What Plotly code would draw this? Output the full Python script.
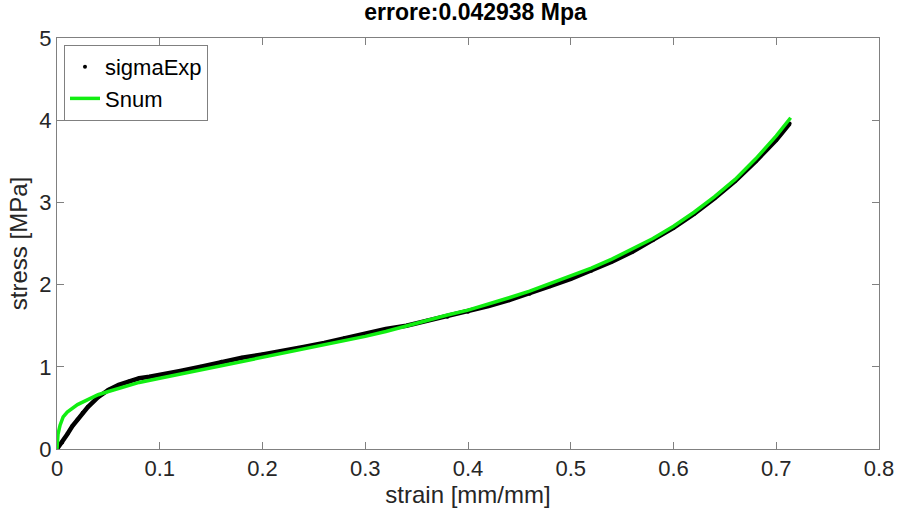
import plotly.graph_objects as go

# Experimental data (strain [mm/mm], stress [MPa])
exp_strain = [0.000, 0.005, 0.010, 0.015, 0.020, 0.025, 0.030, 0.040, 0.050, 0.060,
              0.070, 0.080, 0.090, 0.100, 0.120, 0.140, 0.160, 0.180, 0.200, 0.220,
              0.240, 0.260, 0.280, 0.300, 0.320, 0.340, 0.360, 0.380, 0.400, 0.420,
              0.440, 0.460, 0.480, 0.500, 0.520, 0.540, 0.560, 0.580, 0.600, 0.620,
              0.640, 0.660, 0.680, 0.700, 0.713]
exp_stress = [0.00, 0.08, 0.18, 0.28, 0.36, 0.44, 0.51, 0.63, 0.72, 0.78,
              0.82, 0.86, 0.88, 0.90, 0.95, 1.00, 1.06, 1.11, 1.15, 1.19,
              1.24, 1.29, 1.35, 1.40, 1.46, 1.50, 1.56, 1.61, 1.67, 1.74,
              1.81, 1.89, 1.98, 2.07, 2.17, 2.28, 2.40, 2.54, 2.69, 2.86,
              3.05, 3.26, 3.50, 3.76, 3.96]

# Numerical model
num_strain = [0.000, 0.001, 0.003, 0.006, 0.010, 0.015, 0.020, 0.030, 0.040, 0.050,
              0.060, 0.070, 0.080, 0.100, 0.120, 0.140, 0.160, 0.180, 0.200, 0.220,
              0.240, 0.260, 0.280, 0.300, 0.320, 0.340, 0.360, 0.380, 0.400, 0.420,
              0.440, 0.460, 0.480, 0.500, 0.520, 0.540, 0.560, 0.580, 0.600, 0.620,
              0.640, 0.660, 0.680, 0.700, 0.714]
num_stress = [0.00, 0.18, 0.29, 0.39, 0.45, 0.50, 0.54, 0.60, 0.66, 0.70,
              0.74, 0.78, 0.81, 0.86, 0.91, 0.96, 1.02, 1.07, 1.11, 1.16,
              1.21, 1.26, 1.31, 1.37, 1.43, 1.50, 1.56, 1.63, 1.69, 1.76,
              1.84, 1.92, 2.01, 2.10, 2.20, 2.31, 2.43, 2.56, 2.71, 2.88,
              3.07, 3.28, 3.53, 3.81, 4.03]

x_ticks = [0, 0.1, 0.2, 0.3, 0.4, 0.5, 0.6, 0.7, 0.8]
y_ticks = [0, 1, 2, 3, 4, 5]

FONT = "Liberation Sans, Arial, sans-serif"
AX = "#808080"
TXT = "#262626"

fig = go.Figure()
fig.add_trace(go.Scatter(x=exp_strain, y=exp_stress, mode="lines",
                         line=dict(color="black", width=4.5), showlegend=False,
                         hoverinfo="skip"))
fig.add_trace(go.Scatter(x=exp_strain, y=exp_stress, mode="markers",
                         marker=dict(color="black", size=4), name="sigmaExp"))
fig.add_trace(go.Scatter(x=num_strain, y=num_stress, mode="lines",
                         line=dict(color="#11ee11", width=3.5), name="Snum"))

axis_common = dict(showgrid=False, zeroline=False, showline=True, linecolor=AX,
                   linewidth=1, mirror="ticks", ticks="inside", ticklen=7,
                   tickcolor=AX, automargin=False,
                   tickfont=dict(family=FONT, size=22, color=TXT))

fig.update_layout(
    width=899, height=518,
    margin=dict(l=57, r=20, t=38, b=69),
    paper_bgcolor="white", plot_bgcolor="white",
    title=dict(text="<b>errore:0.042938 Mpa</b>", x=0.529, xanchor="center",
               y=0.993, yanchor="top",
               font=dict(family=FONT, size=23, color="black")),
    xaxis=dict(range=[0, 0.8], tickvals=x_ticks, ticktext=[f"{v:g}" for v in x_ticks],
               title=dict(text="strain [mm/mm]", font=dict(family=FONT, size=24, color=TXT),
                          standoff=3),
               **axis_common),
    yaxis=dict(range=[0, 5], tickvals=y_ticks,
               title=dict(text="stress [MPa]", font=dict(family=FONT, size=24, color=TXT),
                          standoff=4),
               **axis_common),
    legend=dict(x=0.0085, y=0.983, xanchor="left", yanchor="top",
                bgcolor="white", bordercolor=AX, borderwidth=1,
                font=dict(family=FONT, size=22, color="black"),
                tracegroupgap=0, itemwidth=30),
)

fig.write_html("out.html", config={"displayModeBar": False},
               post_script="document.body.style.margin='0';")
